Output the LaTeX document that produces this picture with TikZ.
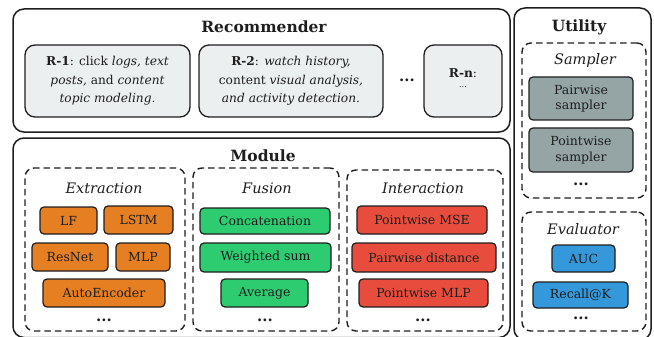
\documentclass[tikz,border=0pt]{standalone}
\usepackage{fontspec}
\setmainfont{DejaVu Serif}
\definecolor{inkc}{HTML}{1E1E1E}
\definecolor{cloudc}{HTML}{ECEFF0}
\definecolor{greyc}{HTML}{95A5A6}
\definecolor{orangec}{HTML}{E67E22}
\definecolor{greenc}{HTML}{2ECC71}
\definecolor{redc}{HTML}{E74C3C}
\definecolor{bluec}{HTML}{3498DB}
% place a node from its corner coordinates (x1,y1)-(x2,y2)
\newcommand\placebox[7]{%
  \pgfmathsetmacro\cx{(#2+#4)/2}\pgfmathsetmacro\cy{(#3+#5)/2}%
  \pgfmathsetmacro\bw{#4-#2}\pgfmathsetmacro\bh{#5-#3}%
  \node[#6, minimum width=\bw pt, minimum height=\bh pt] (#1) at (\cx,\cy) {#7};}
\tikzset{
  outer/.style={draw=inkc, line width=1.5pt, rounded corners=11pt, inner sep=0pt},
  group/.style={draw=inkc, line width=1.4pt, dash pattern=on 6.5pt off 4pt, rounded corners=9pt, inner sep=0pt},
  rbox/.style={draw=inkc, line width=1.3pt, fill=cloudc, rounded corners=10pt, inner sep=0pt,
    align=center, text=inkc, font=\fontsize{12.2}{18.5}\selectfont},
  item/.style={draw=inkc, line width=1.2pt, rounded corners=4pt, inner sep=0pt,
    align=center, text=inkc, font=\fontsize{12.5}{15.5}\selectfont},
  ext/.style={item, fill=orangec},
  fus/.style={item, fill=greenc},
  inter/.style={item, fill=redc},
  samp/.style={item, fill=greyc},
  evalb/.style={item, fill=bluec},
  title/.style={text=inkc, font=\fontsize{15.5}{18}\selectfont\bfseries, inner sep=0pt},
  label/.style={text=inkc, font=\fontsize{14.5}{18}\selectfont\itshape, inner sep=0pt},
  more/.style={text=inkc, font=\fontsize{15}{17}\selectfont\bfseries, inner sep=0pt},
}
\begin{document}
\begin{tikzpicture}[x=1pt,y=-1pt]
\useasboundingbox (0,0) rectangle (654,337);

% Recommender
\placebox{rec}{13}{9}{510}{132}{outer}{}
\node[title] (rectitle) at (264,27) {Recommender};
\placebox{r1}{25}{45}{190}{117}{rbox}{\textbf{R-1}: click \textit{logs, text}\\\textit{posts,} and \textit{content}\\\textit{topic modeling.}}
\placebox{r2}{199}{45}{383}{117}{rbox}{\textbf{R-2}: \textit{watch history,}\\content \textit{visual analysis,}\\\textit{and activity detection.}}
\node[more] (rdots) at (407,80) {...};
\placebox{rn}{424}{45}{502}{117}{rbox}{}
\node[text=inkc, font=\fontsize{12.2}{14}\selectfont, inner sep=0pt] (rnlab) at (463,73) {\textbf{R-n}:};
\node[text=inkc, font=\fontsize{8}{10}\selectfont, inner sep=0pt] (rndots) at (463,87) {...};

% Module
\placebox{mod}{13}{138}{510}{337.5}{outer}{}
\node[title] (modtitle) at (263,156) {Module};

\placebox{extg}{25}{168}{185}{331}{group}{}
\node[label] (extlab) at (104,188) {Extraction};
\placebox{lf}{40}{207}{97}{234}{ext}{LF}
\placebox{lstm}{104}{206}{173}{234}{ext}{LSTM}
\placebox{resnet}{32}{243}{108}{271}{ext}{ResNet}
\placebox{mlp}{116}{243}{170}{271}{ext}{MLP}
\placebox{ae}{43}{279}{165}{307}{ext}{AutoEncoder}
\node[more] (extdots) at (104,320) {...};

\placebox{fusg}{193}{168}{339}{331}{group}{}
\node[label] (fuslab) at (267,188) {Fusion};
\placebox{concat}{200}{208}{330}{234}{fus}{Concatenation}
\placebox{wsum}{200}{243}{331}{272}{fus}{Weighted sum}
\placebox{avg}{221}{279}{308}{307}{fus}{Average}
\node[more] (fusdots) at (265,320) {...};

\placebox{intg}{347}{170}{503}{331}{group}{}
\node[label] (intlab) at (423,188) {Interaction};
\placebox{pmse}{357}{206}{487}{234}{inter}{Pointwise MSE}
\placebox{pdist}{352}{243}{496}{272}{inter}{Pairwise distance}
\placebox{pmlp}{359}{279}{488}{307}{inter}{Pointwise MLP}
\node[more] (intdots) at (423,320) {...};

% Utility
\placebox{util}{514}{8}{651}{340}{outer}{}
\node[title] (utiltitle) at (579,27) {Utility};

\placebox{sampg}{522}{43}{646}{198}{group}{}
\node[label] (samplab) at (585,61) {Sampler};
\placebox{pws}{529}{77}{633}{120}{samp}{Pairwise\\sampler}
\placebox{pts}{529}{128}{633}{172}{samp}{Pointwise\\sampler}
\node[more] (sampdots) at (581,184) {...};

\placebox{evalg}{522}{212}{646}{331}{group}{}
\node[label] (evallab) at (583,229) {Evaluator};
\placebox{auc}{552}{245}{615}{272}{evalb}{AUC}
\placebox{rk}{533}{282}{628}{308}{evalb}{Recall@K}
\node[more] (evaldots) at (581,318) {...};
\end{tikzpicture}
\end{document}
